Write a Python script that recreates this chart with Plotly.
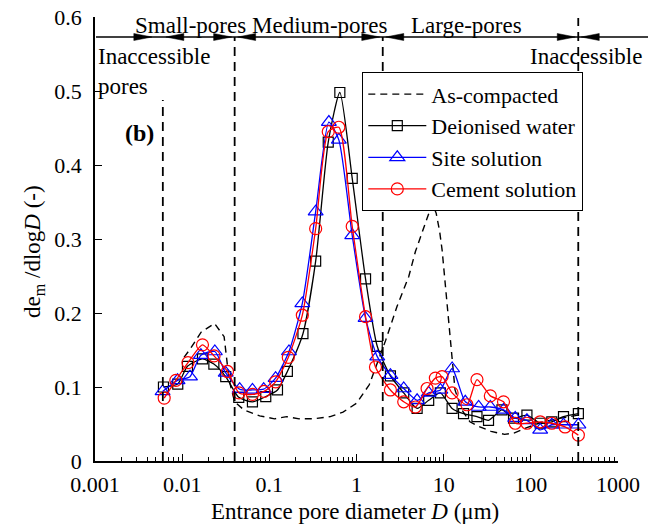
import math
import plotly.graph_objects as go

# ---------------- data ----------------
asc_x = [0.0105, 0.0123, 0.0165, 0.0235, 0.0303, 0.0324, 0.0346, 0.040, 0.0512, 0.0775,
         0.115, 0.158, 0.22, 0.32, 0.5, 0.7, 1.0, 1.4, 1.8, 2.16, 2.92, 3.97, 4.74, 6.0,
         7.4, 8.2, 9.0, 9.6, 10.4, 11.3, 12.5, 13.5, 16, 20, 25, 35, 50, 65, 90, 130, 200, 350]
asc_y = [0.140, 0.151, 0.174, 0.186, 0.168, 0.142, 0.109, 0.080, 0.069, 0.061,
         0.057, 0.060, 0.057, 0.057, 0.060, 0.066, 0.078, 0.103, 0.138, 0.163, 0.209, 0.249, 0.283, 0.318,
         0.348, 0.335, 0.310, 0.285, 0.240, 0.195, 0.141, 0.096, 0.070, 0.053, 0.047, 0.040, 0.036, 0.038, 0.045, 0.052, 0.057, 0.062]

dw_x = [0.0061, 0.0089, 0.0115, 0.0171, 0.0231, 0.0316, 0.0446, 0.064, 0.091, 0.124,
        0.161, 0.243, 0.340, 0.474, 0.644, 0.893, 1.27, 1.73, 2.45, 3.48, 4.96, 6.73,
        9.16, 12.5, 16.9, 24.1, 32.7, 46.6, 63.3, 90.2, 128, 174, 237, 351]
dw_y = [0.100, 0.104, 0.128, 0.138, 0.131, 0.114, 0.086, 0.080, 0.087, 0.096,
        0.121, 0.172, 0.270, 0.431, 0.498, 0.382, 0.246, 0.155, 0.115, 0.092, 0.071, 0.082,
        0.092, 0.071, 0.064, 0.060, 0.055, 0.069, 0.058, 0.062, 0.051, 0.053, 0.060, 0.064]

ss_x = [0.00596, 0.00885, 0.0123, 0.0164, 0.0237, 0.0316, 0.0457, 0.064, 0.0861, 0.118,
        0.168, 0.239, 0.340, 0.482, 0.627, 0.893, 1.27, 1.73, 2.45, 3.48, 4.96, 6.73,
        9.16, 12.5, 17.7, 25.2, 34.3, 48.6, 66.2, 90.2, 128, 174, 237, 351]
ss_y = [0.094, 0.109, 0.114, 0.143, 0.148, 0.119, 0.097, 0.096, 0.097, 0.112,
        0.148, 0.213, 0.337, 0.458, 0.434, 0.305, 0.193, 0.141, 0.116, 0.098, 0.082, 0.092,
        0.096, 0.125, 0.080, 0.073, 0.073, 0.069, 0.058, 0.055, 0.042, 0.049, 0.049, 0.049]

cs_x = [0.00622, 0.00846, 0.01167, 0.0171, 0.0232, 0.0331, 0.0449, 0.064, 0.0869, 0.118,
        0.165, 0.239, 0.340, 0.474, 0.627, 0.893, 1.27, 1.65, 2.45, 3.48, 4.74, 6.45,
        8.03, 9.58, 12.5, 18.5, 24.1, 34.3, 48.6, 66.2, 90.2, 128, 174, 247, 351]
cs_y = [0.085, 0.109, 0.133, 0.157, 0.142, 0.121, 0.092, 0.090, 0.094, 0.107,
        0.140, 0.197, 0.314, 0.445, 0.451, 0.317, 0.195, 0.127, 0.096, 0.080, 0.073, 0.098,
        0.112, 0.114, 0.092, 0.076, 0.110, 0.088, 0.080, 0.051, 0.051, 0.053, 0.051, 0.046, 0.035]

series_names = ["As-compacted", "Deionised water", "Site solution", "Cement solution"]
boundaries = [0.006, 0.04, 2, 350]
region_labels = ["Small-pores", "Medium-pores", "Large-pores"]
x_tickvals = [0.001, 0.01, 0.1, 1, 10, 100, 1000]
x_ticktext = ["0.001", "0.01", "0.1", "1", "10", "100", "1000"]
y_tickvals = [0, 0.1, 0.2, 0.3, 0.4, 0.5, 0.6]
y_ticktext = ["0", "0.1", "0.2", "0.3", "0.4", "0.5", "0.6"]

# ---------------- layout geometry ----------------
# the page body has an 8px default margin, so the figure is made 8px smaller
# and every margin is measured from the window minus that offset
OFF = 8
WIN_W, WIN_H = 659, 527
FW, FH = WIN_W - OFF, WIN_H - OFF
L, R, T, B = 95, 618, 17, 461          # plot area in window pixels
PW, PH = R - L, B - T
FONT = "Liberation Serif, Times New Roman, serif"

def pxx(px):
    return (px - L) / PW

def pxy(py):
    return (B - py) / PH

def data_px(v):
    return L + (math.log10(v) + 3) / 6 * PW

fig = go.Figure()

fig.add_trace(go.Scatter(x=asc_x, y=asc_y, mode="lines", name=series_names[0],
                         line=dict(color="black", width=1.4, dash="7px,5px")))
fig.add_trace(go.Scatter(x=dw_x, y=dw_y, mode="lines+markers", name=series_names[1],
                         line=dict(color="black", width=1.3, shape="spline", smoothing=0.6),
                         marker=dict(symbol="square-open", size=10, color="black",
                                     line=dict(width=1.2, color="black"))))
fig.add_trace(go.Scatter(x=ss_x, y=ss_y, mode="lines+markers", name=series_names[2],
                         line=dict(color="#0000ff", width=1.3, shape="spline", smoothing=0.6),
                         marker=dict(symbol="triangle-up-open", size=13, color="#0000ff",
                                     line=dict(width=1.2, color="#0000ff"))))
fig.add_trace(go.Scatter(x=cs_x, y=cs_y, mode="lines+markers", name=series_names[3],
                         line=dict(color="#ff0000", width=1.3, shape="spline", smoothing=0.6),
                         marker=dict(symbol="circle-open", size=12, color="#ff0000",
                                     line=dict(width=1.2, color="#ff0000"))))

shapes = []
tops = [100, 37, 37, 18]
for b, tp in zip(boundaries, tops):
    shapes.append(dict(type="line", xref="x", yref="paper", x0=b, x1=b,
                       y0=0, y1=pxy(tp), line=dict(color="black", width=1.8, dash="9px,6px")))
ytop = 37
shapes.append(dict(type="line", xref="paper", yref="paper", x0=pxx(96), x1=pxx(648),
                   y0=pxy(ytop), y1=pxy(ytop), line=dict(color="black", width=1.5)))

def head(tip_px, direction, length=18, hw=3.5):
    base = tip_px - direction * length
    p = "M {:.5f},{:.5f} L {:.5f},{:.5f} L {:.5f},{:.5f} Z".format(
        pxx(tip_px), pxy(ytop), pxx(base), pxy(ytop - hw), pxx(base), pxy(ytop + hw))
    return dict(type="path", xref="paper", yref="paper", path=p,
                fillcolor="black", line=dict(color="black", width=0.5))

for i, b in enumerate(boundaries):
    bp = data_px(b)
    shapes.append(head(bp - (11 if i == 0 else 3), +1))
    shapes.append(head(bp + 3, -1))

annotations = []
lab_px = [190, 319, 466]
for t, xp in zip(region_labels, lab_px):
    annotations.append(dict(text=t, xref="paper", yref="paper", x=pxx(xp), y=pxy(25),
                            xanchor="center", yanchor="middle", showarrow=False,
                            font=dict(family=FONT, size=23, color="black")))
annotations.append(dict(text="Inaccessible<br>pores", xref="paper", yref="paper",
                        x=pxx(96), y=pxy(72), xanchor="left", yanchor="middle", align="left",
                        showarrow=False, font=dict(family=FONT, size=23, color="black")))
annotations.append(dict(text="Inaccessible", xref="paper", yref="paper",
                        x=pxx(586), y=pxy(57), xanchor="center", yanchor="middle",
                        showarrow=False, font=dict(family=FONT, size=23, color="black")))
annotations.append(dict(text="<b>(b)</b>", xref="paper", yref="paper",
                        x=pxx(139), y=pxy(133), xanchor="center", yanchor="middle",
                        showarrow=False, font=dict(family=FONT, size=24, color="black")))
annotations.append(dict(text="Entrance pore diameter <i>D</i> (μm)", xref="paper", yref="paper",
                        x=pxx(355), y=pxy(511), xanchor="center", yanchor="middle",
                        showarrow=False, font=dict(family=FONT, size=23, color="black")))
annotations.append(dict(text="de<sub>m</sub> /dlog<i>D</i> (-)", xref="paper", yref="paper",
                        x=pxx(34), y=pxy(252), xanchor="center", yanchor="middle", textangle=-90,
                        showarrow=False, font=dict(family=FONT, size=23, color="black")))

minor_vals = [k * 10 ** d for d in range(-3, 3) for k in range(2, 10)]

fig.update_layout(
    width=FW, height=FH,
    margin=dict(l=L - OFF, r=WIN_W - R, t=T - OFF, b=WIN_H - B, pad=0, autoexpand=False),
    paper_bgcolor="white", plot_bgcolor="white",
    font=dict(family=FONT, size=22, color="black"),
    showlegend=True,
    legend=dict(x=pxx(362), y=pxy(72), xanchor="left", yanchor="top",
                bgcolor="white", bordercolor="black", borderwidth=1.3,
                font=dict(family=FONT, size=22, color="black"),
                itemwidth=58, tracegroupgap=0),
    xaxis=dict(type="log", range=[-3, 3], showgrid=False, zeroline=False, automargin=False,
               showline=True, linecolor="black", linewidth=1.5, mirror=False,
               tickmode="array", tickvals=x_tickvals, ticktext=x_ticktext,
               ticks="inside", ticklen=7, tickwidth=1.3, tickcolor="black",
               ticklabelstandoff=3, ticklabeloverflow="allow",
               tickfont=dict(family=FONT, size=22, color="black"),
               minor=dict(tickmode="array", tickvals=minor_vals, ticks="inside",
                          ticklen=4, tickwidth=1, tickcolor="black", showgrid=False)),
    yaxis=dict(range=[0, 0.6], showgrid=False, zeroline=False, automargin=False,
               showline=True, linecolor="black", linewidth=1.5, mirror=False,
               tickmode="array", tickvals=y_tickvals, ticktext=y_ticktext,
               ticks="inside", ticklen=7, tickwidth=1.3, tickcolor="black",
               ticklabelstandoff=7, ticklabeloverflow="allow",
               tickfont=dict(family=FONT, size=22, color="black")),
    shapes=shapes,
    annotations=annotations,
)

fig.write_html("out.html", config={"displayModeBar": False})
